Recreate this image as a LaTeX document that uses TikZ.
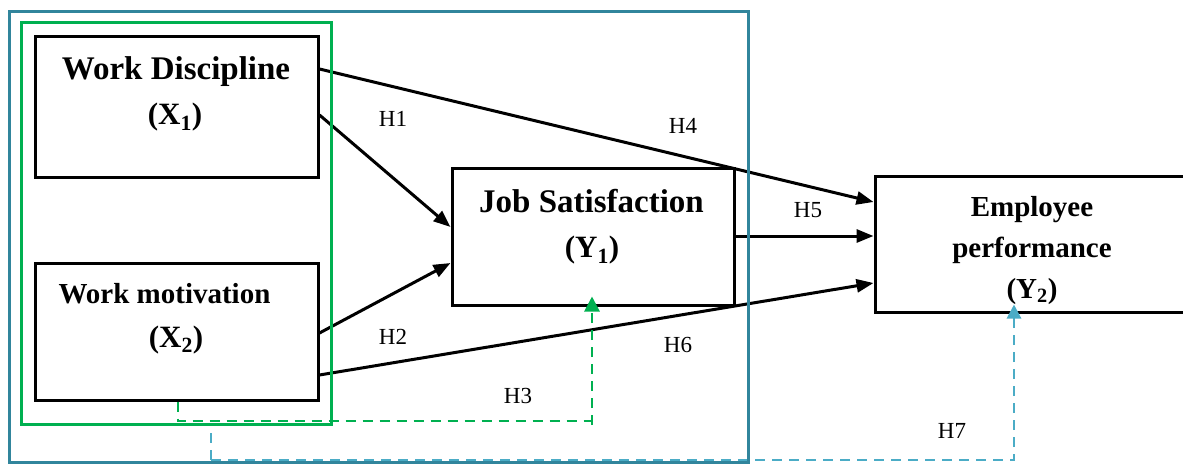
\documentclass[tikz,border=0pt]{standalone}
\usepackage{fontspec}
\setmainfont{Liberation Serif}
\usetikzlibrary{arrows.meta}
\definecolor{frameblue}{HTML}{31859C}
\definecolor{dashblue}{HTML}{4BACC6}
\definecolor{framegreen}{HTML}{00B050}
\begin{document}
\begin{tikzpicture}[x=1pt,y=-1pt,
  varbox/.style={draw=black,line width=3pt,inner sep=0pt,rectangle},
  bigtxt/.style={font=\bfseries\fontsize{33}{36}\selectfont,anchor=base,inner sep=0pt},
  subtxt/.style={font=\bfseries\fontsize{31}{34}\selectfont,anchor=base,inner sep=0pt},
  midtxt/.style={font=\bfseries\fontsize{29}{32}\selectfont,anchor=base,inner sep=0pt},
  hyp/.style={font=\fontsize{23}{26}\selectfont,anchor=base,inner sep=0pt},
  relarrow/.style={line width=3pt,-{Triangle[length=17pt,width=13pt]}},
  gdash/.style={draw=framegreen,line width=2.8pt,dash pattern=on 10pt off 7pt},
  bdash/.style={draw=dashblue,line width=2.8pt,dash pattern=on 10pt off 7pt},
  framebox/.style={line width=3pt}]
\useasboundingbox (0,0) rectangle (1183,465);
\clip (0,0) rectangle (1183,465);

% boxes
\node[varbox,minimum width=283pt,minimum height=141pt] (x1) at (176.5,107.5) {};
\node[varbox,minimum width=283pt,minimum height=137pt] (x2) at (176.5,331.5) {};
\node[varbox,minimum width=282pt,minimum height=136pt] (y1) at (593,237) {};
\node[varbox,minimum width=320pt,minimum height=135pt] (y2) at (1035,244.5) {};

% texts
\node[bigtxt] (t1) at (176,80) {Work Discipline};
\node[subtxt] (t1s) at (175,125) {(X\textsubscript{1})};
\node[midtxt] (t2) at (164.5,303) {Work motivation};
\node[subtxt] (t2s) at (176,347) {(X\textsubscript{2})};
\node[bigtxt] (t3) at (591.5,212) {Job Satisfaction};
\node[subtxt] (t3s) at (592,258) {(Y\textsubscript{1})};
\node[midtxt] (t4) at (1032,217) {Employee};
\node[midtxt] (t4b) at (1032,257) {performance};
\node[midtxt] (t4s) at (1032,298) {(Y\textsubscript{2})};

% solid relations
\draw[relarrow] ([yshift=38.5pt]x1.east) -- ([yshift=42.5pt]y2.west);
\draw[relarrow] ([yshift=-7.5pt]x1.east) -- ([yshift=10pt]y1.west);
\draw[relarrow] ([yshift=-1.5pt]x2.east) -- ([yshift=-26pt]y1.west);
\draw[relarrow] ([yshift=-43.5pt]x2.east) -- ([yshift=-38.5pt]y2.west);
\coordinate (h5s) at ([yshift=1pt]y1.east);
\draw[relarrow] (h5s) -- (h5s -| y2.west);

% dashed relations
\coordinate (gc) at (592,425);
\draw[gdash] ([xshift=1.5pt]x2.south) |- ([yshift=4pt]gc);
\draw[gdash,-{Triangle[length=15pt,width=15pt]},framegreen] (gc) -- ([xshift=-1pt,yshift=10pt]y1.south);
\coordinate (bs) at (211,433);
\coordinate (bc) at (211,460);
\draw[bdash] (bs) -- (bc);
\draw[bdash,-{Triangle[length=14pt,width=14pt]}] (bc) -| ([xshift=-21pt,yshift=9pt]y2.south);

% frames
\draw[framebox,draw=frameblue] (9,12) rectangle (748,462);
\draw[framebox,draw=framegreen] (21,23) rectangle (331,424);

% hypothesis labels
\node[hyp] (h1) at (393,127) {H1};
\node[hyp] (h2) at (393,344) {H2};
\node[hyp] (h3) at (518,403) {H3};
\node[hyp] (h4) at (683,134) {H4};
\node[hyp] (h5) at (808,218) {H5};
\node[hyp] (h6) at (678,352) {H6};
\node[hyp] (h7) at (952,438) {H7};
\end{tikzpicture}
\end{document}
